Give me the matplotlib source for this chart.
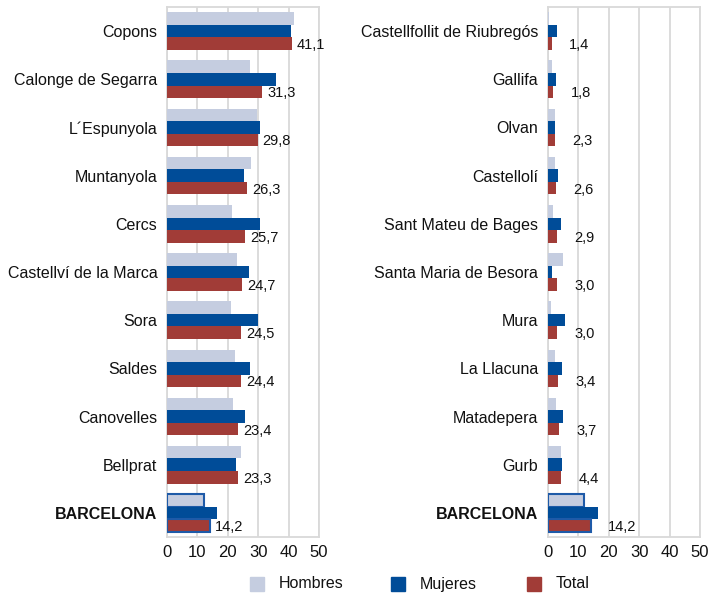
import matplotlib
matplotlib.use("Agg")
import matplotlib.pyplot as plt
import numpy as np

plt.rcParams['font.family'] = ['Liberation Sans', 'DejaVu Sans']

left_cats = ["Copons", "Calonge de Segarra", "L´Espunyola", "Muntanyola", "Cercs",
             "Castellví de la Marca", "Sora", "Saldes", "Canovelles", "Bellprat", "BARCELONA"]
left_hombres = [41.7, 27.2, 29.5, 27.5, 21.3, 23.1, 20.9, 22.5, 21.7, 24.2, 12.1]
left_mujeres = [40.7, 35.7, 30.5, 25.4, 30.6, 26.9, 29.8, 27.3, 25.7, 22.8, 16.6]
left_total = [41.1, 31.3, 29.8, 26.3, 25.7, 24.7, 24.5, 24.4, 23.4, 23.3, 14.2]

right_cats = ["Castellfollit de Riubregós", "Gallifa", "Olvan", "Castellolí", "Sant Mateu de Bages",
              "Santa Maria de Besora", "Mura", "La Llacuna", "Matadepera", "Gurb", "BARCELONA"]
right_hombres = [0.2, 1.3, 2.4, 2.2, 1.6, 4.8, 0.9, 2.3, 2.7, 4.3, 12.0]
right_mujeres = [2.9, 2.6, 2.4, 3.3, 4.3, 1.4, 5.7, 4.7, 4.8, 4.6, 16.4]
right_total = [1.4, 1.8, 2.3, 2.6, 2.9, 3.0, 3.0, 3.4, 3.7, 4.4, 14.2]

xticks = [0, 10, 20, 30, 40, 50]
series_names = ["Hombres", "Mujeres", "Total"]
colors = ["#C5CDE0", "#004C98", "#A13C37"]
edge_blue = "#1E5AA8"

W, H = 723, 594
fig = plt.figure(figsize=(W / 100, H / 100), dpi=100)

def panel(rect, cats, hom, muj, tot, label_off_px):
    ax = fig.add_axes(rect)
    n = len(cats)
    y = np.arange(n)
    bh = 0.26
    series = [hom, muj, tot]
    for i, vals in enumerate(series):
        for j, v in enumerate(vals):
            is_bcn = cats[j] == "BARCELONA"
            ec = edge_blue if (is_bcn and i != 1) else colors[i]
            lw = 1.5 if (is_bcn and i != 1) else 0
            ax.barh(y[j] + (i - 1) * bh, v, height=bh, color=colors[i],
                    edgecolor=ec, linewidth=lw, zorder=3)
    for j, v in enumerate(tot):
        ax.annotate(f"{v:.1f}".replace(".", ","), xy=(v, y[j] + bh + 0.03),
                    xytext=(label_off_px * 0.72, 0), textcoords="offset points",
                    ha="left", va="center", fontsize=10.5, color="#111111", zorder=4)
    ax.set_ylim(n - 0.5, -0.5)
    ax.set_xlim(0, 50)
    ax.set_xticks(xticks)
    ax.set_xticklabels([str(t) for t in xticks], fontsize=12, color="#111111")
    ax.set_yticks(y)
    ax.set_yticklabels(cats, fontsize=11.5, color="#111111")
    for lab in ax.get_yticklabels():
        if lab.get_text() == "BARCELONA":
            lab.set_fontweight("bold")
    ax.tick_params(axis="both", length=0)
    ax.tick_params(axis="x", pad=6)
    ax.tick_params(axis="y", pad=7)
    ax.grid(axis="x", color="#D9D9D9", linewidth=1.3, zorder=0)
    ax.set_axisbelow(True)
    for s in ax.spines.values():
        s.set_color("#D9D9D9")
        s.set_linewidth(1.3)
    return ax

bottom = 1 - 537 / H
height = (537 - 7) / H
panel([167 / W, bottom, 152 / W, height], left_cats, left_hombres, left_mujeres, left_total, 5)
panel([548 / W, bottom, 152 / W, height], right_cats, right_hombres, right_mujeres, right_total, 17)

# legend
leg_y = 1 - 584 / H
sq_x = [257, 398, 534]
for name, c, sx in zip(series_names, colors, sq_x):
    fig.patches.append(plt.Rectangle(((sx - 7) / W, leg_y - 7 / H), 14 / W, 14 / H,
                                     transform=fig.transFigure, color=c, figure=fig))
    fig.text((sx + 22) / W, leg_y, name, fontsize=11.5, va="center", ha="left", color="#111111")

fig.savefig("out.png", dpi=100)
